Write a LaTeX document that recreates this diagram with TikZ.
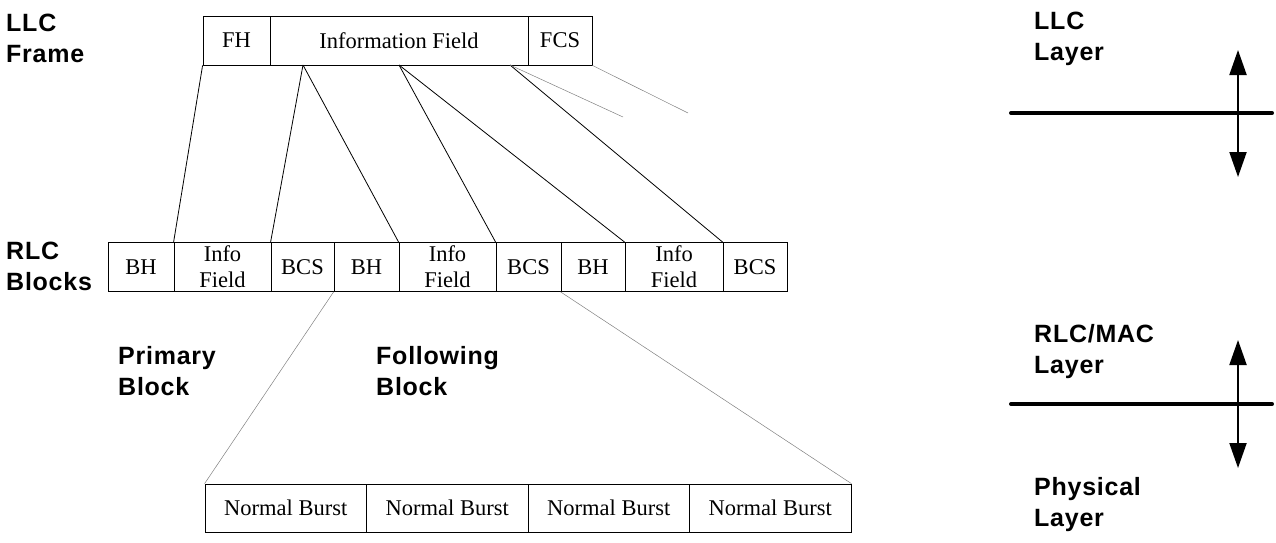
\documentclass[tikz,border=0pt]{standalone}
\usepackage{fontspec}
\setmainfont{Liberation Serif}
\newfontfamily\lblfont[LetterSpace=3]{Liberation Sans Bold}
\usetikzlibrary{arrows.meta}

\newcommand*{\boxh}{49}
\newcommand*{\lyrx}{1238}
\newcommand*{\lyrl}{1011}
\newcommand*{\lyrr}{1272}

\begin{document}
\begin{tikzpicture}[x=1pt,y=-1pt,
	fld/.style={draw,line width=0.8pt,minimum height=\boxh,inner sep=0pt,align=center,font=\fontsize{22.5}{26}\selectfont},
	lbl/.style={anchor=north west,inner sep=0pt,align=left,font=\lblfont\fontsize{25}{31}\selectfont},
	fan/.style={line width=0.8pt},
	thinfan/.style={gray,line width=0.5pt},
	sep/.style={line width=4pt,line cap=round},
	updown/.style={line width=2pt,{Triangle[length=25pt,width=17pt]}-{Triangle[length=25pt,width=17pt]}}]

	\useasboundingbox (0,0) rectangle (1276,542);

	% labels
	\node[lbl] (llcf) at (6,14) {LLC\\Frame};
	\node[lbl] (rlcb) at (6,242) {RLC\\Blocks};
	\node[lbl] (prim) at (118,346) {Primary\\Block};
	\node[lbl] (foll) at (376,346) {Following\\Block};

	% LLC frame
	\node[fld,minimum width=67] (fh) at (236.5,40.5) {FH};
	\node[fld,minimum width=258] (info) at (399,40.5) {Information Field};
	\node[fld,minimum width=64] (fcs) at (560,40.5) {FCS};

	% RLC blocks
	\node[fld,minimum width=66] (bha) at (141,267) {BH};
	\node[fld,minimum width=97] (infa) at (222.5,267) {Info\\Field};
	\node[fld,minimum width=63] (bcsa) at (302.5,267) {BCS};
	\node[fld,minimum width=65] (bhb) at (366.5,267) {BH};
	\node[fld,minimum width=97] (infb) at (447.5,267) {Info\\Field};
	\node[fld,minimum width=65] (bcsb) at (528.5,267) {BCS};
	\node[fld,minimum width=64] (bhc) at (593,267) {BH};
	\node[fld,minimum width=98] (infc) at (674,267) {Info\\Field};
	\node[fld,minimum width=64] (bcsc) at (755,267) {BCS};

	% bursts
	\node[fld,minimum width=161.5,minimum height=48] (nba) at (285.75,508) {Normal Burst};
	\node[fld,minimum width=161.5,minimum height=48] (nbb) at (447.25,508) {Normal Burst};
	\node[fld,minimum width=161.5,minimum height=48] (nbc) at (608.75,508) {Normal Burst};
	\node[fld,minimum width=161.5,minimum height=48] (nbd) at (770.25,508) {Normal Burst};

	% fan out of the frame
	\coordinate (sa) at (303,65);
	\coordinate (sb) at (399,65);
	\coordinate (sc) at (510,65);
	\coordinate (ea) at (623,117);
	\coordinate (eb) at (688,113);
	\draw[fan] (fh.south west) -- (infa.north west);
	\draw[fan] (sa) -- (bcsa.north west);
	\draw[fan] (sa) -- (infb.north west);
	\draw[fan] (sb) -- (bcsb.north west);
	\draw[fan] (sb) -- (infc.north west);
	\draw[fan] (sc) -- (bcsc.north west);
	\draw[thinfan] (sc) -- (ea);
	\draw[thinfan] (fcs.south east) -- (eb);

	% following block into bursts
	\draw[thinfan] (bhb.south west) -- (nba.north west);
	\draw[thinfan] (bhc.south west) -- (nbd.north east);

	% layers
	\node[lbl] (llcl) at (1034,12) {LLC\\Layer};
	\node[lbl] (macl) at (1034,324) {RLC/MAC\\Layer};
	\node[lbl] (phyl) at (1034,477) {Physical\\Layer};
	\draw[sep] (\lyrl,113) -- (\lyrr,113);
	\draw[sep] (\lyrl,404) -- (\lyrr,404);
	\draw[updown] (\lyrx,50) -- (\lyrx,177);
	\draw[updown] (\lyrx,340) -- (\lyrx,468);

\end{tikzpicture}
\end{document}
